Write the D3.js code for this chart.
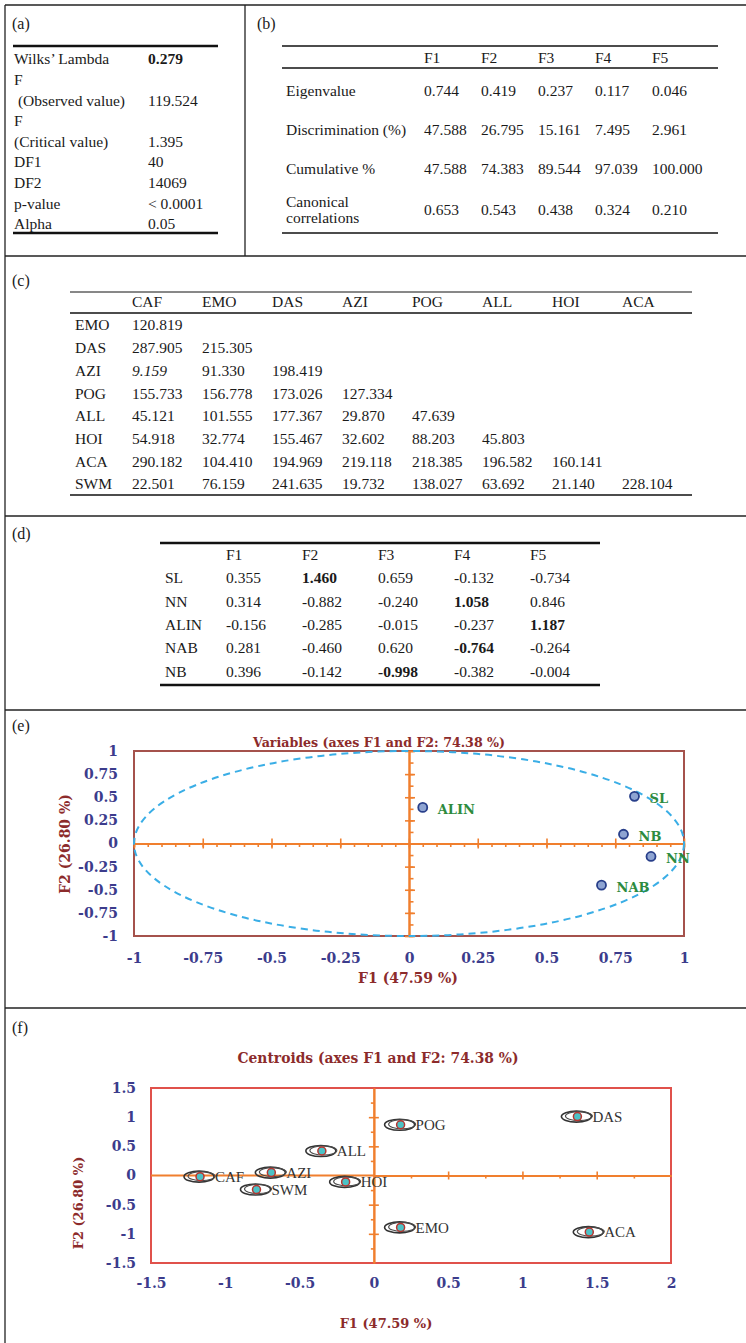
<!DOCTYPE html>
<html>
<head>
<meta charset="utf-8">
<script src="https://cdn.jsdelivr.net/npm/d3@7"></script>
<style>
body { margin: 0; background: #fff; }
svg text { font-family: "Liberation Serif", "Times New Roman", serif; }
.tbl text { font-size: 15.5px; fill: #1a1a1a; }
.plot text { font-family: "DejaVu Serif", serif; font-weight: bold; }
</style>
</head>
<body>
<svg id="fig" width="746" height="1343"></svg>
<script>
// (a) test of equality of centroids
var statLabels = [["Wilks\u2019 Lambda"], ["F", " (Observed value)"], ["F", "(Critical value)"], ["DF1"], ["DF2"], ["p-value"], ["Alpha"]];
var statValues = ["0.279", "119.524", "1.395", "40", "14069", "< 0.0001", "0.05"];

// (b) eigenvalues
var functions = ["F1", "F2", "F3", "F4", "F5"];
var eigenvalue = [0.744, 0.419, 0.237, 0.117, 0.046];
var discrimination = [47.588, 26.795, 15.161, 7.495, 2.961];
var cumulative = [47.588, 74.383, 89.544, 97.039, 100.000];
var canonical = [0.653, 0.543, 0.438, 0.324, 0.210];

// (c) squared Mahalanobis distances
var groupCols = ["CAF", "EMO", "DAS", "AZI", "POG", "ALL", "HOI", "ACA"];
var groupRows = ["EMO", "DAS", "AZI", "POG", "ALL", "HOI", "ACA", "SWM"];
var distances = [
  [120.819],
  [287.905, 215.305],
  [9.159, 91.330, 198.419],
  [155.733, 156.778, 173.026, 127.334],
  [45.121, 101.555, 177.367, 29.870, 47.639],
  [54.918, 32.774, 155.467, 32.602, 88.203, 45.803],
  [290.182, 104.410, 194.969, 219.118, 218.385, 196.582, 160.141],
  [22.501, 76.159, 241.635, 19.732, 138.027, 63.692, 21.140, 228.104]
];

// (d) standardized canonical coefficients
var variables = ["SL", "NN", "ALIN", "NAB", "NB"];
var coefs = [
  [0.355, 1.460, 0.659, -0.132, -0.734],
  [0.314, -0.882, -0.240, 1.058, 0.846],
  [-0.156, -0.285, -0.015, -0.237, 1.187],
  [0.281, -0.460, 0.620, -0.764, -0.264],
  [0.396, -0.142, -0.998, -0.382, -0.004]
];
var boldCells = ["0,1", "1,3", "2,4", "3,3", "4,2"];

// (e) variables, axes F1 and F2
var varNames = ["SL", "NB", "NN", "NAB", "ALIN"];
var varF1 = [0.82, 0.78, 0.88, 0.70, 0.05];
var varF2 = [0.51, 0.10, -0.14, -0.45, 0.39];
var ticksE = [-1, -0.75, -0.5, -0.25, 0, 0.25, 0.5, 0.75, 1];

// (f) centroids, axes F1 and F2
var centNames = ["CAF", "AZI", "SWM", "ALL", "HOI", "POG", "EMO", "DAS", "ACA"];
var centF1 = [-1.17, -0.69, -0.79, -0.35, -0.19, 0.18, 0.18, 1.37, 1.45];
var centF2 = [-0.02, 0.05, -0.24, 0.42, -0.11, 0.87, -0.89, 1.01, -0.97];
var ticksFx = [-1.5, -1, -0.5, 0, 0.5, 1, 1.5, 2];
var ticksFy = [-1.5, -1, -0.5, 0, 0.5, 1, 1.5];

var svg = d3.select("#fig");

// ---------- frame
var frame = svg.append("g").attr("stroke", "#222").attr("stroke-width", 1.3);
frame.append("line").attr("x1", 5).attr("x2", 746).attr("y1", 5).attr("y2", 5);
frame.append("line").attr("x1", 5).attr("x2", 5).attr("y1", 5).attr("y2", 1343);
frame.append("line").attr("x1", 245).attr("x2", 245).attr("y1", 5).attr("y2", 256);
[256, 516, 710, 1008].forEach(function(y) {
  frame.append("line").attr("x1", 5).attr("x2", 746).attr("y1", y).attr("y2", y);
});

var panelLabels = [["(a)", 12, 23], ["(b)", 257, 23], ["(c)", 12, 280], ["(d)", 12, 533], ["(e)", 12, 725], ["(f)", 12, 1027]];
svg.selectAll(".plabel").data(panelLabels).enter().append("text")
  .attr("class", "plabel")
  .attr("x", d => d[1]).attr("y", d => d[2]).attr("dy", "0.35em")
  .style("font-size", "16px").style("fill", "#1a1a1a")
  .text(d => d[0]);

function hline(g, x1, x2, y, w) {
  g.append("line").attr("x1", x1).attr("x2", x2).attr("y1", y).attr("y2", y)
    .attr("stroke", "#111").attr("stroke-width", w);
}
function cell(g, x, y, t) {
  return g.append("text").attr("x", x).attr("y", y).attr("dy", "0.35em").text(t);
}

// ---------- (a)
var ta = svg.append("g").attr("class", "tbl");
hline(ta, 13, 218, 46, 2.5);
hline(ta, 13, 218, 233, 2.5);
var aStep = 20.6, line = 0;
statLabels.forEach(function(lines, i) {
  var y;
  lines.forEach(function(l) {
    y = 59 + line * aStep;
    cell(ta, 14, y, l).attr("xml:space", "preserve");
    line++;
  });
  var t = cell(ta, 148, y, statValues[i]);
  if (i == 0) t.style("font-weight", "bold");
});

// ---------- (b)
var tb = svg.append("g").attr("class", "tbl");
var bCols = [424, 481, 538, 595, 652];
hline(tb, 282, 718, 46, 1.3);
hline(tb, 282, 718, 68, 1.3);
hline(tb, 282, 718, 233, 1.3);
functions.forEach(function(f, i) { cell(tb, bCols[i], 58, f); });
var bRows = [[["Eigenvalue"], eigenvalue, 91], [["Discrimination (%)"], discrimination, 130],
             [["Cumulative %"], cumulative, 169], [["Canonical", "correlations"], canonical, 210]];
bRows.forEach(function(r) {
  if (r[0].length == 1) cell(tb, 286, r[2], r[0][0]);
  else { cell(tb, 286, r[2] - 8, r[0][0]); cell(tb, 286, r[2] + 8, r[0][1]); }
  r[1].forEach(function(v, i) { cell(tb, bCols[i], r[2], v.toFixed(3)); });
});

// ---------- (c)
var tc = svg.append("g").attr("class", "tbl");
var cCols = [132, 202, 272, 342, 412, 482, 552, 622];
hline(tc, 70, 692, 292, 1);
hline(tc, 70, 692, 313, 1.5);
hline(tc, 70, 692, 495, 1.5);
groupCols.forEach(function(g, i) { cell(tc, cCols[i], 302, g); });
groupRows.forEach(function(g, r) {
  var y = 325 + r * 22.7;
  cell(tc, 75, y, g);
  distances[r].forEach(function(v, i) {
    var t = cell(tc, cCols[i], y, v.toFixed(3));
    if (v < 10) t.style("font-style", "italic");
  });
});

// ---------- (d)
var td = svg.append("g").attr("class", "tbl");
var dCols = [226, 302, 378, 454, 530];
hline(td, 160, 600, 543, 2.5);
hline(td, 160, 600, 685, 2.5);
functions.forEach(function(f, i) { cell(td, dCols[i], 555, f); });
variables.forEach(function(v, r) {
  var y = 578 + r * 23.3;
  cell(td, 165, y, v);
  coefs[r].forEach(function(c, i) {
    var t = cell(td, dCols[i], y, c.toFixed(3));
    if (boldCells.indexOf(r + "," + i) >= 0) t.style("font-weight", "bold");
  });
});

// ---------- shared plot helpers
var tickBlue = "#3c3c8c", titleRed = "#8c2b2b", orange = "#f07f2e";
var fmt = d => String(d);

function tickLabels(g, axis, transform, size) {
  var a = g.append("g").attr("transform", transform).call(axis);
  a.select(".domain").remove();
  a.selectAll("text").attr("fill", tickBlue).style("font-size", size + "px");
  return a;
}

function zeroAxis(g, axis, transform, x1, x2, y1, y2) {
  var a = g.append("g").attr("transform", transform).call(axis);
  a.select(".domain").attr("stroke", orange).attr("stroke-width", 2);
  a.selectAll(".tick line").attr("stroke", orange).attr("stroke-width", 1.6);
  if (x1 != null) a.selectAll(".tick line").attr("x1", x1).attr("x2", x2);
  if (y1 != null) a.selectAll(".tick line").attr("y1", y1).attr("y2", y2);
  return a;
}

// ---------- (e) variables plot
var ge = svg.append("g").attr("class", "plot");
var xe = d3.scaleLinear().domain([-1, 1]).range([134, 684]);
var ye = d3.scaleLinear().domain([-1, 1]).range([936, 751]);

ge.append("rect").attr("x", xe(-1)).attr("y", ye(1))
  .attr("width", xe(1) - xe(-1)).attr("height", ye(-1) - ye(1))
  .attr("fill", "none").attr("stroke", "#a5524c").attr("stroke-width", 2);

zeroAxis(ge, d3.axisBottom(xe).tickValues(d3.range(-1, 1.001, 0.05)).tickSize(3.5).tickSizeOuter(0).tickFormat(""),
  "translate(0," + ye(0) + ")", null, null, 0, 3.5);
zeroAxis(ge, d3.axisBottom(xe).tickValues(ticksE).tickSize(5).tickSizeOuter(0).tickFormat(""),
  "translate(0," + ye(0) + ")", null, null, -5, 5);
zeroAxis(ge, d3.axisRight(ye).tickValues(d3.range(-1, 1.001, 0.125)).tickSize(4.5).tickSizeOuter(0).tickFormat(""),
  "translate(" + xe(0) + ",0)", 0, 4.5, null, null);
zeroAxis(ge, d3.axisRight(ye).tickValues(ticksE).tickSize(6).tickSizeOuter(0).tickFormat(""),
  "translate(" + xe(0) + ",0)", -4, 6, null, null);

ge.append("ellipse").attr("cx", xe(0)).attr("cy", ye(0))
  .attr("rx", xe(1) - xe(0)).attr("ry", ye(0) - ye(1))
  .attr("fill", "none").attr("stroke", "#3aaee6").attr("stroke-width", 2)
  .attr("stroke-dasharray", "7,5");

tickLabels(ge, d3.axisBottom(xe).tickValues(ticksE).tickSize(0).tickPadding(0).tickFormat(fmt), "translate(0,958)", 14)
  .selectAll("text").attr("y", 0).attr("dy", "0.35em");
tickLabels(ge, d3.axisLeft(ye).tickValues(ticksE).tickSize(0).tickPadding(0).tickFormat(fmt), "translate(118,0)", 14);

ge.append("text").attr("x", 379).attr("y", 742).attr("dy", "0.35em").attr("text-anchor", "middle")
  .attr("textLength", 252).attr("lengthAdjust", "spacingAndGlyphs")
  .attr("fill", titleRed).style("font-size", "13.5px").text("Variables (axes F1 and F2: 74.38 %)");
ge.append("text").attr("x", 408).attr("y", 978).attr("dy", "0.35em").attr("text-anchor", "middle")
  .attr("fill", titleRed).style("font-size", "14px").text("F1 (47.59 %)");
ge.append("text").attr("transform", "translate(65,844) rotate(-90)").attr("dy", "0.35em")
  .attr("text-anchor", "middle").attr("fill", titleRed).style("font-size", "14px").text("F2 (26.80 %)");

ge.selectAll(".vpt").data(varNames).enter().append("circle")
  .attr("class", "vpt")
  .attr("cx", (d, i) => xe(varF1[i])).attr("cy", (d, i) => ye(varF2[i]))
  .attr("r", 4.5).attr("fill", "#8ea4d2").attr("stroke", "#283f8a").attr("stroke-width", 1.8);
ge.selectAll(".vlab").data(varNames).enter().append("text")
  .attr("class", "vlab")
  .attr("x", (d, i) => xe(varF1[i]) + 15).attr("y", (d, i) => ye(varF2[i]) + 2).attr("dy", "0.35em")
  .attr("fill", "#2e8b3e").style("font-size", "13px")
  .text(d => d);

// ---------- (f) centroids plot
var gf = svg.append("g").attr("class", "plot");
var xf = d3.scaleLinear().domain([-1.5, 2]).range([151, 671]);
var yf = d3.scaleLinear().domain([-1.5, 1.5]).range([1263, 1088]);

gf.append("rect").attr("x", xf(-1.5)).attr("y", yf(1.5))
  .attr("width", xf(2) - xf(-1.5)).attr("height", yf(-1.5) - yf(1.5))
  .attr("fill", "none").attr("stroke", "#e0514b").attr("stroke-width", 2);

gf.append("line").attr("x1", xf(-1.5)).attr("x2", xf(0)).attr("y1", yf(0)).attr("y2", yf(0))
  .attr("stroke", orange).attr("stroke-width", 2);
var xfx = d3.scaleLinear().domain([0, 2]).range([xf(0), xf(2)]);
zeroAxis(gf, d3.axisBottom(xfx).tickValues([0.25, 0.75, 1.25, 1.75]).tickSize(3).tickSizeOuter(0).tickFormat(""),
  "translate(0," + yf(0) + ")", null, null, 0, 3);
zeroAxis(gf, d3.axisBottom(xfx).tickValues([0.5, 1, 1.5]).tickSize(4).tickSizeOuter(0).tickFormat(""),
  "translate(0," + yf(0) + ")", null, null, -4, 4);
zeroAxis(gf, d3.axisLeft(yf).tickValues([-1.25, -0.75, -0.25, 0.25, 0.75, 1.25]).tickSize(3).tickSizeOuter(0).tickFormat(""),
  "translate(" + xf(0) + ",0)", -3, 0, null, null);
zeroAxis(gf, d3.axisLeft(yf).tickValues([-1, -0.5, 0.5, 1]).tickSize(5).tickSizeOuter(0).tickFormat(""),
  "translate(" + xf(0) + ",0)", -5, 5, null, null);

tickLabels(gf, d3.axisBottom(xf).tickValues(ticksFx).tickSize(0).tickPadding(0).tickFormat(fmt), "translate(0,1283)", 14)
  .selectAll("text").attr("y", 0).attr("dy", "0.35em");
tickLabels(gf, d3.axisLeft(yf).tickValues(ticksFy).tickSize(0).tickPadding(0).tickFormat(fmt), "translate(136,0)", 14);

gf.append("text").attr("x", 378).attr("y", 1058).attr("dy", "0.35em").attr("text-anchor", "middle")
  .attr("textLength", 281).attr("lengthAdjust", "spacingAndGlyphs")
  .attr("fill", titleRed).style("font-size", "15px").text("Centroids (axes F1 and F2: 74.38 %)");
gf.append("text").attr("x", 386).attr("y", 1323).attr("dy", "0.35em").attr("text-anchor", "middle")
  .attr("fill", titleRed).style("font-size", "13px").text("F1 (47.59 %)");
gf.append("text").attr("transform", "translate(78,1203) rotate(-90)").attr("dy", "0.35em")
  .attr("text-anchor", "middle").attr("fill", titleRed).style("font-size", "13px").text("F2 (26.80 %)");

var cent = gf.selectAll(".cent").data(centNames).enter().append("g")
  .attr("class", "cent")
  .attr("transform", (d, i) => "translate(" + xf(centF1[i]) + "," + yf(centF2[i]) + ")");
cent.append("ellipse").attr("cx", -1).attr("rx", 15).attr("ry", 5.5)
  .attr("fill", "none").attr("stroke", "#333").attr("stroke-width", 1.6);
cent.append("ellipse").attr("cx", 1.5).attr("cy", -0.5).attr("rx", 13.5).attr("ry", 4.5)
  .attr("fill", "none").attr("stroke", "#4a4a4a").attr("stroke-width", 1.1);
cent.append("circle").attr("r", 4).attr("fill", "#4cc2c6").attr("stroke", "#b5352f").attr("stroke-width", 1.5);
cent.append("text").attr("x", 15).attr("dy", "0.35em")
  .style("font-family", "'Liberation Serif', serif").style("font-weight", "normal")
  .style("font-size", "15px").attr("fill", "#333")
  .text(d => d);
</script>
</body>
</html>
